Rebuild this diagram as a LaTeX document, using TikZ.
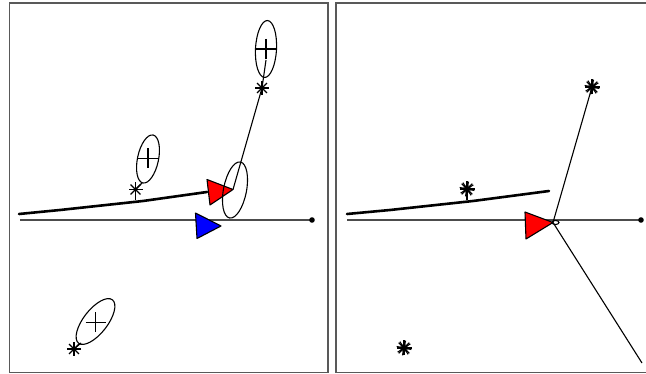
\documentclass[tikz,border=0pt]{standalone}
\usetikzlibrary{calc}
\begin{document}
\begin{tikzpicture}[x=1pt,y=-1pt,
  frame/.style={draw=black!65,line width=1.5pt},
  axisline/.style={draw=black!70,line width=1.2pt},
  thick path/.style={draw=black,line width=2.6pt,line join=round,line cap=round},
  thinline/.style={draw=black,line width=1.1pt},
  ell/.style={draw=black,line width=1.1pt},
  tri/.style={draw=black,line width=1.1pt,line join=round}]
\useasboundingbox (0,0) rectangle (646,374);
\fill[white] (0,0) rectangle (646,374);
% asterisk macros
\newcommand{\myast}[2]{%
  \foreach \a in {0,45,90,135}{\draw[thinline] ($(#1)+(\a:#2)$) -- ($(#1)+(\a+180:#2)$);}}
\newcommand{\mybast}[2]{%
  \foreach \a in {0,45,90,135,12,57,102,147}{\draw[black,line width=1.1pt] ($(#1)+(\a:#2)$) -- ($(#1)+(\a+180:#2)$);}
  \draw[black,line width=0.8pt] (#1) circle (3.5);}
\newcommand{\myplus}[3]{%
  \draw[thinline] ($(#1)+(-#2,0)$) -- ($(#1)+(#2,0)$);
  \draw[thinline] ($(#1)+(0,-#3)$) -- ($(#1)+(0,#3)$);}

% frames
\draw[frame] (9.5,3) rectangle (328,372.5);
\draw[frame] (336,3) rectangle (660,372.5);

% ===== left panel =====
\coordinate (La0) at (20,220);
\coordinate (La1) at (312,220);
\draw[axisline] (La0) -- (La1);
\fill (La1) circle (2.8);

\coordinate (Lt0) at (19,214);
\coordinate (Lt1) at (143,201);
\coordinate (Lt2) at (207,192);
\draw[thick path] (Lt0) -- (60,210) -- (Lt1) -- (Lt2);

% blue triangle
\draw[tri,fill=blue] (195.5,213) -- (197,238.5) -- (221,226) -- cycle;

% line to top
\coordinate (Ltip) at (233,189.5);
\coordinate (Ls1) at (262,88);
\coordinate (Lp1) at (266,49);
\draw[thinline] (Ltip) -- (Ls1) -- (266,60);

% red triangle
\draw[tri,fill=red] (207,179.5) -- (210,205) -- (Ltip) -- cycle;

% ellipse near red triangle
\draw[ell,rotate around={79:(235,190)}] (235,190) ellipse (28.5 and 11.5);

% top ellipse group
\draw[ell,rotate around={87:(Lp1)}] (Lp1) ellipse (28.5 and 10.5);
\myplus{Lp1}{11}{10}
\myast{Ls1}{7}

% middle group
\coordinate (Lp2) at (148,158.5);
\coordinate (Ls2) at (135.5,189.5);
\draw[ell,rotate around={78:(148,159)}] (148,159) ellipse (24.5 and 10.5);
\myplus{Lp2}{10}{10}
\draw[thinline] (Ls2) -- (142,183);
\draw[thinline] (Ls2) -- (135.5,200.5);
\myast{Ls2}{7}

% bottom group
\coordinate (Lp3) at (95.5,322.5);
\coordinate (Ls3) at (74,349);
\draw[ell,rotate around={52:(95.5,321.5)}] (95.5,321.5) ellipse (27.5 and 12);
\myplus{Lp3}{10}{10}
\draw[thinline] (Ls3) -- (81,343);
\myast{Ls3}{7}

% ===== right panel =====
\coordinate (Ra0) at (347,220);
\coordinate (Ra1) at (641,220);
\draw[axisline] (Ra0) -- (Ra1);
\fill (Ra1) circle (2.8);

\coordinate (Rt0) at (347,214);
\coordinate (Rt1) at (473,201);
\coordinate (Rt2) at (549,191);
\draw[thick path] (Rt0) -- (390,210) -- (Rt1) -- (Rt2);

\coordinate (Rtip) at (553,222.5);
\coordinate (Rs1) at (592,87);
\coordinate (Rend) at (642,363);
\draw[thinline] (Rtip) -- (Rs1);
\draw[thinline] (Rtip) -- (Rend);
\draw[tri,fill=red] (525,212) -- (526,239) -- (Rtip) -- cycle;
\draw[ell] (555.5,222.5) ellipse (3.5 and 2);

\coordinate (Rs2) at (467,189);
\coordinate (Rs3) at (404,348);
\draw[thinline] (Rs2) -- (467,200.5);
\mybast{Rs1}{7.5}
\mybast{Rs2}{7.5}
\mybast{Rs3}{7.5}
\end{tikzpicture}
\end{document}
